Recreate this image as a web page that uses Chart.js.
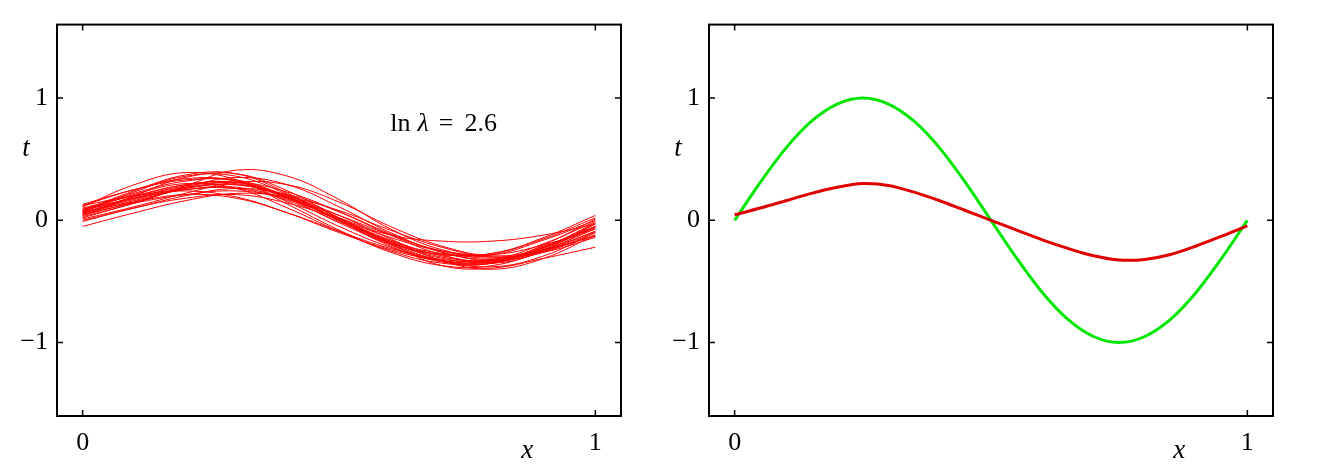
<!DOCTYPE html>
<html>
<head>
<meta charset="utf-8">
<script src="https://cdn.jsdelivr.net/npm/chart.js@4.4.1/dist/chart.umd.min.js"></script>
<style>
  body { margin: 0; background: #fff; width: 1317px; height: 469px; overflow: hidden; position: relative; }
  canvas { position: absolute; top: 0; }
  #leftChart { left: 0; }
  #rightChart { left: 658px; }
</style>
</head>
<body>
<canvas id="leftChart" width="658" height="469"></canvas>
<canvas id="rightChart" width="659" height="469"></canvas>
<script>
const xFit = [0, 0.1, 0.2, 0.3, 0.4, 0.5, 0.6, 0.7, 0.8, 0.9, 1];

// the individual fits (left panel), one row per data set
const fitCurves = [
  [0.06, 0.18, 0.28, 0.30, 0.18, 0.01, -0.16, -0.29, -0.33, -0.22, -0.05],
  [0.12, 0.25, 0.34, 0.32, 0.15, -0.05, -0.22, -0.33, -0.34, -0.22, -0.02],
  [0.00, 0.10, 0.20, 0.26, 0.21, 0.07, -0.11, -0.26, -0.33, -0.26, -0.10],
  [0.08, 0.24, 0.37, 0.38, 0.22, 0.00, -0.20, -0.33, -0.35, -0.23, -0.05],
  [-0.05, 0.06, 0.16, 0.22, 0.19, 0.08, -0.08, -0.22, -0.30, -0.26, -0.14],
  [0.13, 0.25, 0.33, 0.32, 0.18, -0.02, -0.19, -0.28, -0.27, -0.14, 0.04],
  [0.04, 0.15, 0.27, 0.35, 0.29, 0.11, -0.10, -0.26, -0.32, -0.25, -0.09],
  [0.07, 0.21, 0.30, 0.26, 0.10, -0.09, -0.25, -0.35, -0.35, -0.22, -0.03],
  [0.01, 0.11, 0.22, 0.31, 0.29, 0.15, -0.05, -0.21, -0.29, -0.24, -0.13],
  [0.11, 0.29, 0.39, 0.33, 0.13, -0.08, -0.26, -0.37, -0.37, -0.24, -0.03],
  [0.05, 0.14, 0.21, 0.24, 0.18, 0.04, -0.12, -0.25, -0.31, -0.24, -0.09],
  [0.09, 0.18, 0.25, 0.26, 0.16, -0.01, -0.19, -0.33, -0.38, -0.29, -0.10],
  [0.03, 0.14, 0.28, 0.41, 0.36, 0.17, -0.07, -0.24, -0.30, -0.25, -0.12],
  [0.06, 0.17, 0.26, 0.29, 0.19, 0.01, -0.17, -0.30, -0.32, -0.19, -0.01],
  [0.12, 0.20, 0.24, 0.19, 0.06, -0.10, -0.24, -0.33, -0.34, -0.24, -0.07],
  [0.04, 0.20, 0.35, 0.38, 0.24, 0.02, -0.18, -0.28, -0.27, -0.15, 0.02],
  [0.08, 0.18, 0.27, 0.29, 0.20, 0.04, -0.15, -0.33, -0.40, -0.31, -0.12],
  [-0.01, 0.10, 0.18, 0.21, 0.14, 0.01, -0.14, -0.25, -0.28, -0.20, -0.07],
  [0.07, 0.23, 0.36, 0.36, 0.21, 0.00, -0.21, -0.34, -0.35, -0.20, 0.01],
  [0.05, 0.16, 0.25, 0.27, 0.17, 0.02, -0.12, -0.17, -0.17, -0.12, -0.03],
  [0.10, 0.20, 0.29, 0.31, 0.20, 0.02, -0.19, -0.37, -0.39, -0.31, -0.22],
  [0.02, 0.14, 0.26, 0.31, 0.23, 0.07, -0.12, -0.28, -0.35, -0.25, -0.05],
  [0.09, 0.22, 0.32, 0.33, 0.19, 0.00, -0.17, -0.27, -0.28, -0.16, 0.00],
  [0.06, 0.19, 0.29, 0.31, 0.19, 0.00, -0.18, -0.31, -0.33, -0.21, -0.05],
  [0.07, 0.15, 0.21, 0.18, 0.06, -0.09, -0.23, -0.32, -0.33, -0.22, -0.06]
];

// right panel: true function and the average of the fits
const xTrue = [0, 0.05, 0.1, 0.15, 0.2, 0.25, 0.3, 0.35, 0.4, 0.45, 0.5,
               0.55, 0.6, 0.65, 0.7, 0.75, 0.8, 0.85, 0.9, 0.95, 1];
const trueCurve = [0, 0.31, 0.59, 0.81, 0.95, 1, 0.95, 0.81, 0.59, 0.31, 0,
                   -0.31, -0.59, -0.81, -0.95, -1, -0.95, -0.81, -0.59, -0.31, 0];
const meanFit = [0.045, 0.10, 0.16, 0.22, 0.27, 0.30, 0.285, 0.23, 0.16, 0.08, 0.0,
                 -0.08, -0.16, -0.23, -0.29, -0.325, -0.32, -0.28, -0.21, -0.13, -0.045];

const xTickValues = [0, 1];
const yTickValues = [-1, 0, 1];

const serif = '"Liberation Serif", "DejaVu Serif", serif';

const fmt = (v) => (v < 0 ? '\u2212' + Math.abs(v) : String(v));
const toPoints = (xs, ys) => xs.map((x, i) => ({ x: x, y: ys[i] }));

// box round the plot with inward ticks, plus axis letters
const framePlugin = {
  id: 'frame',
  afterDatasetsDraw(chart) {
    const { ctx, chartArea: a, scales: { x, y } } = chart;
    const tl = 6;
    ctx.save();
    ctx.strokeStyle = '#000';
    ctx.lineWidth = 1.5;
    ctx.beginPath();
    xTickValues.forEach(v => {
      const px = x.getPixelForValue(v);
      ctx.moveTo(px, a.bottom); ctx.lineTo(px, a.bottom - tl);
      ctx.moveTo(px, a.top); ctx.lineTo(px, a.top + tl);
    });
    yTickValues.forEach(v => {
      const py = y.getPixelForValue(v);
      ctx.moveTo(a.left, py); ctx.lineTo(a.left + tl, py);
      ctx.moveTo(a.right, py); ctx.lineTo(a.right - tl, py);
    });
    ctx.stroke();
    ctx.lineWidth = 2;
    ctx.strokeRect(a.left, a.top, a.right - a.left, a.bottom - a.top);

    ctx.fillStyle = '#000';
    ctx.font = 'italic 27px ' + serif;
    ctx.textAlign = 'center';
    ctx.textBaseline = 'middle';
    ctx.fillText('t', a.left - 31, y.getPixelForValue(0.58));
    ctx.fillText('x', x.getPixelForValue(0.867), a.bottom + 35);
    ctx.restore();
  }
};

// "ln λ = 2.6" note on the left panel
const notePlugin = {
  id: 'note',
  afterDatasetsDraw(chart) {
    const { ctx, scales: { x, y } } = chart;
    let px = x.getPixelForValue(0.6);
    const py = y.getPixelForValue(0.73);
    ctx.save();
    ctx.fillStyle = '#000';
    ctx.textBaseline = 'alphabetic';
    ctx.textAlign = 'left';
    ctx.font = '26px ' + serif;
    ctx.fillText('ln', px, py);
    px += ctx.measureText('ln').width + 7;
    ctx.font = 'italic 26px ' + serif;
    ctx.fillText('λ', px, py);
    px += ctx.measureText('λ').width + 10;
    ctx.font = '26px ' + serif;
    ctx.fillText('=', px, py);
    px += ctx.measureText('=').width + 11;
    ctx.fillText('2.6', px, py);
    ctx.restore();
  }
};

const makeScales = (yWidth) => ({
  x: {
    type: 'linear', min: -0.05, max: 1.05,
    afterBuildTicks: (s) => { s.ticks = xTickValues.map(v => ({ value: v })); },
    afterFit: (s) => { s.height = 53; },
    grid: { display: false, drawTicks: false },
    border: { display: false },
    ticks: { color: '#000', font: { family: serif, size: 26 }, padding: 12,
             maxRotation: 0, autoSkip: false, callback: fmt }
  },
  y: {
    type: 'linear', min: -1.6, max: 1.6,
    afterBuildTicks: (s) => { s.ticks = yTickValues.map(v => ({ value: v })); },
    afterFit: (s) => { s.width = yWidth; },
    grid: { display: false, drawTicks: false },
    border: { display: false },
    ticks: { color: '#000', font: { family: serif, size: 26 }, padding: 9,
             autoSkip: false, callback: fmt }
  }
});

const baseOptions = (yWidth, padRight) => ({
  responsive: false,
  animation: false,
  layout: { padding: { left: 0, right: padRight, top: 21, bottom: 0 } },
  plugins: { legend: { display: false }, tooltip: { enabled: false } },
  elements: { point: { radius: 0 } },
  scales: makeScales(yWidth)
});

new Chart(document.getElementById('leftChart'), {
  type: 'line',
  data: {
    datasets: fitCurves.map((c, i) => ({
      label: 'fit ' + (i + 1),
      data: toPoints(xFit, c),
      borderColor: '#ff0000',
      borderWidth: 1,
      tension: 0.4,
      fill: false
    }))
  },
  options: baseOptions(57, 37),
  plugins: [framePlugin, notePlugin]
});

new Chart(document.getElementById('rightChart'), {
  type: 'line',
  data: {
    datasets: [
      { label: 'average fit', data: toPoints(xTrue, meanFit), borderColor: '#e00000',
        borderWidth: 3, tension: 0.3, fill: false },
      { label: 'sin(2πx)', data: toPoints(xTrue, trueCurve), borderColor: '#00e600',
        borderWidth: 3, tension: 0.3, fill: false }
    ]
  },
  options: baseOptions(51, 44),
  plugins: [framePlugin]
});
</script>
</body>
</html>
